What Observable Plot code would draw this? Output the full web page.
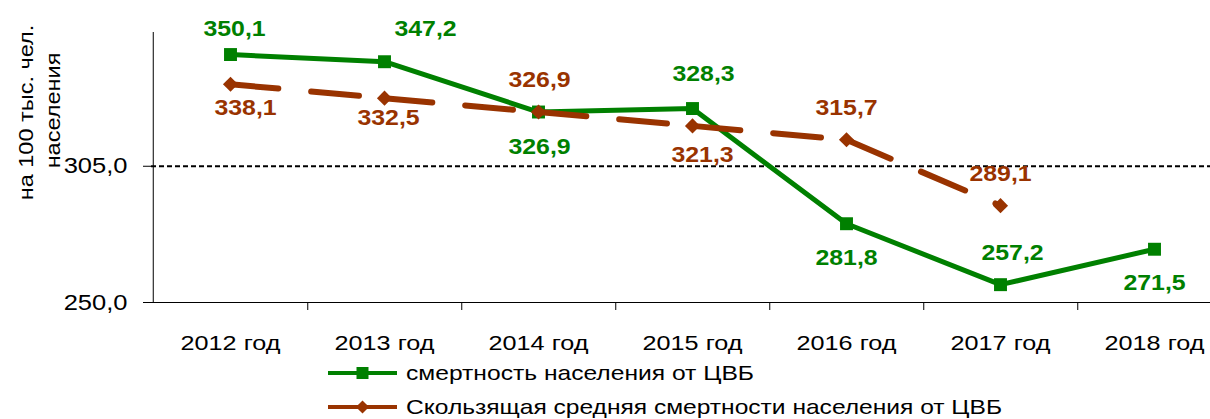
<!DOCTYPE html>
<html><head><meta charset="utf-8">
<script src="https://cdn.jsdelivr.net/npm/d3@7"></script>
<script src="https://cdn.jsdelivr.net/npm/@observablehq/plot@0.6"></script>
<style>
body{margin:0;background:#fff;}
#chart svg{display:block;}
</style></head><body><div id="chart"></div>
<script>
const years = ["2012 год","2013 год","2014 год","2015 год","2016 год","2017 год","2018 год"];
const mortality = [350.1, 347.2, 326.9, 328.3, 281.8, 257.2, 271.5];
const movingAvg = [338.1, 332.5, 326.9, 321.3, 315.7, 289.1];
const referenceLevel = 305.0;
const yTicks = [250, 305];
const seriesNames = ["смертность населения от ЦВБ", "Скользящая средняя смертности населения от ЦВБ"];
const yTitle = ["на 100 тыс. чел.", "населения"];

// label placement offsets (px) relative to each point
const mortLabelOffset = [[4,-26],[41,-33],[1,35],[11,-35],[0,34],[12,-32],[0,34]];
const avgLabelOffset = [[15,24],[4,20],[1,-32],[10,29],[0,-32],[0,-32]];

const GREEN = "#008000", BROWN = "#993300";
const fmt = v => v.toFixed(1).replace(".", ",");

const mortData = years.map((x, i) => ({x, v: mortality[i]}));
const avgData = movingAvg.map((v, i) => ({x: years[i], v}));
const avgSegments = avgData.slice(1).map((d, i) => ({x1: avgData[i].x, y1: avgData[i].v, x2: d.x, y2: d.v}));

const half = 77.25;
const labelMarks = [];
mortData.forEach((d, i) => labelMarks.push(Plot.text([d], {x: "x", y: "v", text: d => fmt(d.v), dx: mortLabelOffset[i][0], dy: mortLabelOffset[i][1], fill: GREEN, fontWeight: "bold", fontSize: 22})));
avgData.forEach((d, i) => labelMarks.push(Plot.text([d], {x: "x", y: "v", text: d => fmt(d.v), dx: avgLabelOffset[i][0], dy: avgLabelOffset[i][1], fill: BROWN, fontWeight: "bold", fontSize: 22})));

const chart = Plot.plot({
  width: 1210, height: 362,
  marginLeft: 151, marginRight: 0, marginTop: 32, marginBottom: 60,
  style: {fontFamily: "'Liberation Sans', Arial, sans-serif", color: "black", background: "white"},
  x: {type: "point", domain: years, range: [228.75, 1155.75], padding: 0},
  y: {domain: [250, 359]},
  marks: [
    Plot.axisX({tickSize: 0, tickPadding: 33, fontSize: 21, fill: "black"}),
    Plot.axisY({ticks: yTicks, tickFormat: d => fmt(d), tickSize: 8, tickPadding: 16, fontSize: 22, stroke: "black", fill: "black"}),
    Plot.ruleY([250], {stroke: "black", strokeWidth: 1}),
    Plot.ruleX([years[0]], {x: d => d, dx: -half, stroke: "black", strokeWidth: 1}),
    Plot.ruleX(years, {x: d => d, dx: half, insetTop: 270, insetBottom: -8, stroke: "black", strokeWidth: 1}),
    Plot.ruleY([referenceLevel], {stroke: "black", strokeWidth: 2, strokeDasharray: "5,3"}),
    Plot.line(mortData, {x: "x", y: "v", stroke: GREEN, strokeWidth: 5, strokeLinejoin: "round"}),
    Plot.dot(mortData, {x: "x", y: "v", symbol: "square", r: 7.3, fill: GREEN, stroke: null}),
    Plot.link(avgSegments, {x1: "x1", y1: "y1", x2: "x2", y2: "y2", stroke: BROWN, strokeWidth: 6, strokeLinecap: "round", strokeDasharray: "48,33"}),
    Plot.dot(avgData, {x: "x", y: "v", symbol: "diamond2", r: 6.8, fill: BROWN, stroke: null}),
    ...labelMarks,
    Plot.text([yTitle[0]], {frameAnchor: "left", text: d => d, rotate: -90, textAnchor: "middle", lineAnchor: "middle", dx: -125, dy: -55, fontSize: 21, fill: "black"}),
    Plot.text([yTitle[1]], {frameAnchor: "left", text: d => d, rotate: -90, textAnchor: "middle", lineAnchor: "middle", dx: -98, dy: -57, fontSize: 21, fill: "black"})
  ]
});
document.getElementById("chart").appendChild(chart);

// horizontal stretch of text to match reference glyph proportions
chart.querySelectorAll("g[aria-label]").forEach(g => {
  const lab = g.getAttribute("aria-label");
  let s = 1;
  if (lab === "x-axis tick label") s = 1.2;
  else if (lab === "y-axis tick label") s = 1.16;
  else if (lab === "text") s = g.getAttribute("font-weight") === "bold" ? 1.13 : 1.12;
  else return;
  g.querySelectorAll("text").forEach(t => {
    const tr = t.getAttribute("transform");
    if (tr) t.setAttribute("transform", tr + ` scale(${s},1)`);
    else {
      const x = +t.getAttribute("x") || 0, y = +t.getAttribute("y") || 0;
      t.setAttribute("x", 0); t.setAttribute("y", 0);
      t.setAttribute("transform", `translate(${x},${y}) scale(${s},1)`);
    }
  });
});

// legend below the chart
const leg = d3.select("#chart").append("svg").attr("width", 1210).attr("height", 57).style("display", "block")
  .style("font-family", "'Liberation Sans', Arial, sans-serif");
const rows = [
  {name: seriesNames[0], color: GREEN, sym: d3.symbolSquare, size: 144, cy: 11, base: 18, len: 348},
  {name: seriesNames[1], color: BROWN, sym: d3.symbolDiamond2, size: 110, cy: 45, base: 52, len: 596}
];
rows.forEach(r => {
  leg.append("line").attr("x1", 328).attr("x2", 397).attr("y1", r.cy).attr("y2", r.cy).attr("stroke", r.color).attr("stroke-width", 4);
  leg.append("path").attr("d", d3.symbol(r.sym, r.size)()).attr("transform", `translate(362.5,${r.cy})`).attr("fill", r.color);
  leg.append("text").attr("x", 406).attr("y", r.base).attr("font-size", 21).attr("fill", "black")
    .attr("textLength", r.len).attr("lengthAdjust", "spacingAndGlyphs").text(r.name);
});
</script></body></html>
